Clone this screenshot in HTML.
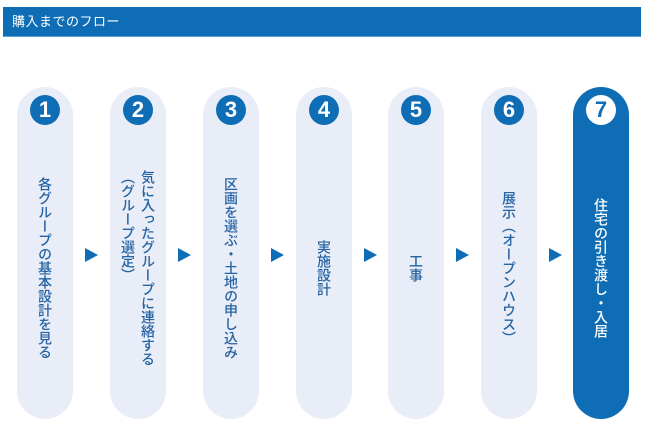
<!DOCTYPE html>
<html><head><meta charset="utf-8"><style>
*{margin:0;padding:0;box-sizing:border-box}
body{width:650px;height:426px;background:#fff;position:relative;overflow:hidden;font-family:"Liberation Sans","Noto Sans CJK JP",sans-serif}
.hd{position:absolute;left:3px;top:7px;width:638px;height:30px;background:#0f6db5;color:#fff;font-size:13px;line-height:30px;padding-left:9px;letter-spacing:0.5px;border-bottom:1px solid #5aa0d8}
.p{position:absolute;top:87px;width:56px;height:332px;border-radius:28px;background:#e9edf7}
.p.d{background:#0f6db5}
.c{position:absolute;left:13px;top:8px;width:30px;height:30px;border-radius:50%;background:#0f6db5;color:#fff;font-weight:bold;font-size:22px;line-height:30px;text-align:center}
.d .c{background:#fff;color:#0f6db5}
.t{position:absolute;left:0;right:0;top:60px;bottom:30px;display:flex;align-items:center;justify-content:center}
.t span{writing-mode:vertical-rl;font-size:14px;line-height:20px;color:#2563a3;font-weight:500;letter-spacing:0}
.d .t span{color:#fff}
.a{position:absolute;top:248px;width:0;height:0;border-top:7px solid transparent;border-bottom:7px solid transparent;border-left:13px solid #0f6db5}
</style></head><body>
<div class="hd">購入までのフロー</div>
<div class="p" style="left:17px"><div class="c">1</div><div class="t"><span>各グループの基本設計を見る</span></div></div>
<div class="p" style="left:110px"><div class="c">2</div><div class="t"><span>気に入ったグループに連絡する<br>（グループ選定）</span></div></div>
<div class="p" style="left:203px"><div class="c">3</div><div class="t"><span>区画を選ぶ・土地の申し込み</span></div></div>
<div class="p" style="left:296px"><div class="c">4</div><div class="t"><span>実施設計</span></div></div>
<div class="p" style="left:388px"><div class="c">5</div><div class="t"><span>工事</span></div></div>
<div class="p" style="left:481px"><div class="c">6</div><div class="t"><span>展示（オープンハウス）</span></div></div>
<div class="p d" style="left:573px"><div class="c">7</div><div class="t"><span>住宅の引き渡し・入居</span></div></div>
<div class="a" style="left:85px"></div>
<div class="a" style="left:178px"></div>
<div class="a" style="left:271px"></div>
<div class="a" style="left:364px"></div>
<div class="a" style="left:456px"></div>
<div class="a" style="left:549px"></div>
</body></html>
